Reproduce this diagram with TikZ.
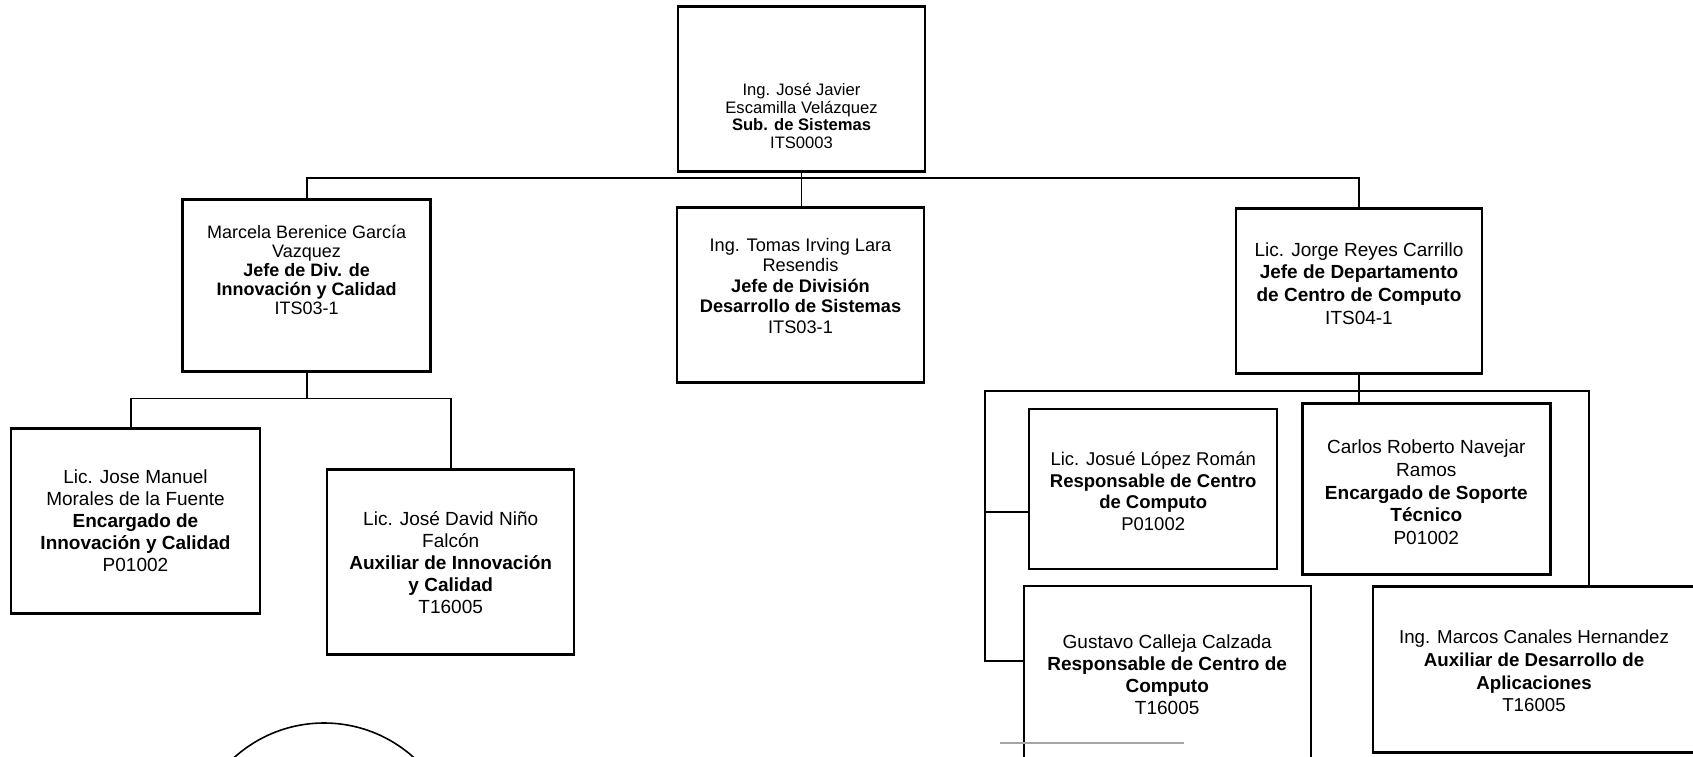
\documentclass[tikz,border=0pt]{standalone}
\usepackage{fontspec}
\setmainfont{Liberation Sans}
\begin{document}
\begin{tikzpicture}[x=1pt,y=-1pt,
  box/.style={draw, line width=2.4pt, inner sep=0pt},
  lbl/.style={align=center, inner sep=0pt, font=\fontsize{19}{22}\selectfont},
  conn/.style={line width=1.8pt}]
\useasboundingbox (0,0) rectangle (1693,756);
\fill[white] (0,0) rectangle (1693,756);
\clip (0,0) rectangle (1693,756);

% boxes
\node[box, minimum width=247pt, minimum height=165pt] (top) at (801.5,89) {};
\node[box, minimum width=248pt, minimum height=172pt] (marcela) at (306.6,285.6) {};
\node[box, minimum width=247pt, minimum height=175pt] (tomas) at (800.5,294.8) {};
\node[box, minimum width=246pt, minimum height=165pt] (jorge) at (1359,291) {};
\node[box, minimum width=249pt, minimum height=185pt] (jm) at (135.5,521) {};
\node[box, minimum width=247pt, minimum height=185pt] (jd) at (450.7,562) {};
\node[box, minimum width=248pt, minimum height=160pt] (josue) at (1153.2,489.1) {};
\node[box, minimum width=248pt, minimum height=171pt] (carlos) at (1426.3,489.1) {};
\node[box, minimum width=287pt, minimum height=214pt] (gustavo) at (1167.2,693.2) {};
\node[box, minimum width=337pt, minimum height=166pt] (marcos) at (1541.7,669.4) {};

% labels
\node[lbl, font=\fontsize{16.6}{17.6}\selectfont] (topt) at (801.5,116)
  {Ing. José Javier\\Escamilla Velázquez\\\textbf{Sub. de Sistemas}\\ITS0003};
\node[lbl, font=\fontsize{18}{18.9}\selectfont] (marcelat) at (306.6,270)
  {Marcela Berenice García\\Vazquez\\\textbf{Jefe de Div. de}\\\textbf{Innovación y Calidad}\\ITS03-1};
\node[lbl, font=\fontsize{18.2}{20.5}\selectfont] (tomast) at (800.5,285.6)
  {Ing. Tomas Irving Lara\\Resendis\\\textbf{Jefe de División}\\\textbf{Desarrollo de Sistemas}\\ITS03-1};
\node[lbl, font=\fontsize{19}{22.7}\selectfont] (jorget) at (1359,283.4)
  {Lic. Jorge Reyes Carrillo\\\textbf{Jefe de Departamento}\\\textbf{de Centro de Computo}\\ITS04-1};
\node[lbl] (jmt) at (135.5,520.4)
  {Lic. Jose Manuel\\Morales de la Fuente\\\textbf{Encargado de}\\\textbf{Innovación y Calidad}\\P01002};
\node[lbl] (jdt) at (450.7,562.5)
  {Lic. José David Niño\\Falcón\\\textbf{Auxiliar de Innovación}\\\textbf{y Calidad}\\T16005};
\node[lbl, font=\fontsize{18.5}{21.6}\selectfont] (josuet) at (1153.2,491.3)
  {Lic. Josué López Román\\\textbf{Responsable de Centro}\\\textbf{de Computo}\\P01002};
\node[lbl, font=\fontsize{19}{22.7}\selectfont] (carlost) at (1426.3,492.3)
  {Carlos Roberto Navejar\\Ramos\\\textbf{Encargado de Soporte}\\\textbf{Técnico}\\P01002};
\node[lbl] (gustavot) at (1167.2,674.3)
  {Gustavo Calleja Calzada\\\textbf{Responsable de Centro de}\\\textbf{Computo}\\T16005};
\node[lbl, font=\fontsize{18.7}{22.7}\selectfont] (marcost) at (1534,671)
  {Ing. Marcos Canales Hernandez\\\textbf{Auxiliar de Desarrollo de}\\\textbf{Aplicaciones}\\T16005};

% connectors
\coordinate (busL) at (306.6,178);
\coordinate (busR) at (1359,178);
\draw[conn] (top.south) -- (top.south |- tomas.north);
\draw[conn] (marcela.north) -- (busL) -- (busR) -- (jorge.north);

\coordinate (mb) at (306.6,398.4);
\coordinate (jmc) at (131,398.4);
\draw[conn] (marcela.south) -- (mb);
\draw[conn] (jmc |- jm.north) -- (jmc) -- (jd.north |- mb) -- (jd.north);

\draw[conn] (jorge.south) -- (jorge.south |- carlos.north);
\coordinate (cl) at (984.7,390.8);
\coordinate (cr) at (1589.3,390.8);
\coordinate (cb) at (984.7,660.8);
\coordinate (cj) at (984.7,511.8);
\draw[conn] (cb -| gustavo.west) -- (cb) -- (cl) -- (cr) -- (cr |- marcos.north);
\draw[conn] (cj) -- (cj -| josue.west);

% other marks
\draw[gray!70, line width=1.5pt] (1000,743) -- (1184,743);
\draw[line width=1.6pt] (324,857) circle[radius=134pt];
\end{tikzpicture}
\end{document}
